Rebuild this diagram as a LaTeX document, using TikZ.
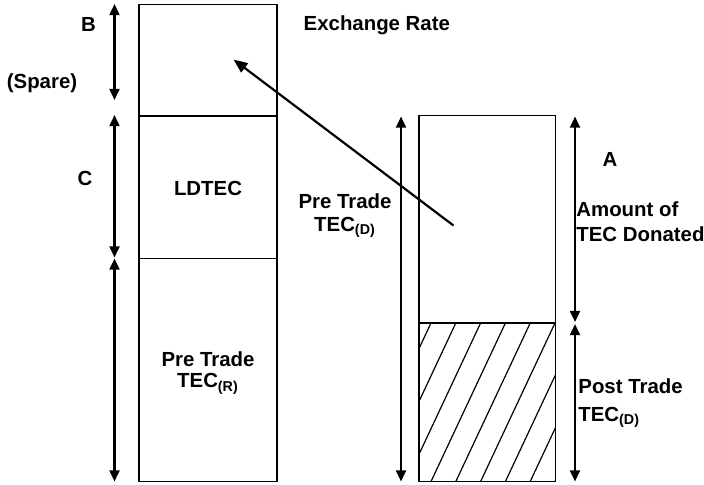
\documentclass[tikz,border=0pt]{standalone}
\usepackage{fontspec}
\setmainfont{Liberation Sans}
\usetikzlibrary{arrows.meta}
\tikzset{
  dimarrow/.style={{Triangle[length=5.6pt,width=5pt]}-{Triangle[length=5.6pt,width=5pt]}, line width=1.1pt},
  ratearrow/.style={-{Triangle[length=7pt,width=5.6pt]}, line width=1.1pt},
  boxline/.style={line width=0.6pt},
  hatchline/.style={line width=0.6pt},
  lbl/.style={font=\fontsize{10.2}{11.5}\selectfont\bfseries, inner sep=0pt},
}

\begin{document}
\begin{tikzpicture}[x=0.5pt, y=-0.5pt]
\useasboundingbox (0,0) rectangle (704,484);

% === Left column: recipient ===
\draw[boxline] (139,4.5) rectangle (277,481.5);
\draw[boxline] (139,116) -- (277,116);
\draw[boxline] (139,258.5) -- (277,258.5);

\coordinate (bTop) at (114.5,4);
\coordinate (bBot) at (114.5,100);
\coordinate (cTop) at (114.5,115);
\coordinate (cBot) at (114.5,257.5);
\coordinate (rTop) at (114.5,258.5);
\coordinate (rBot) at (114.5,481.5);
\draw[dimarrow] (bTop) -- (bBot);
\draw[dimarrow] (cTop) -- (cBot);
\draw[dimarrow] (rTop) -- (rBot);

\node[lbl, anchor=base] (lblB) at (88.5,31) {B};
\node[lbl, anchor=base] (lblSpare) at (42,88.3) {(Spare)};
\node[lbl, anchor=base] (lblC) at (85,185) {C};
\node[lbl, anchor=base] (ldtec) at (208,195) {LDTEC};
\node[lbl, anchor=north, align=center] (preR) at (208,351.7)
  {Pre Trade\\[-1pt] TEC\textsubscript{(R)}};

% === Exchange rate ===
\node[lbl, anchor=base west] (rate) at (303.3,30) {Exchange Rate};
\coordinate (rateTail) at (453.5,225.5);
\coordinate (rateHead) at (233.5,59.5);
\draw[ratearrow] (rateTail) -- (rateHead);

% === Right column: donor ===
\begin{scope}
  \clip (419,323) rectangle (555.7,481.5);
  \foreach \xt in {431,455.8,480.6,505.4,530.2,555,579.8,604.6,629.4}
    \draw[hatchline] ({\xt-74.4},481.5) -- (\xt,323);
\end{scope}
\draw[boxline] (419,115.7) rectangle (555.7,481.5);
\draw[boxline] (419,323) -- (555.7,323);

\coordinate (dTop) at (401,116.5);
\coordinate (dBot) at (401,481.5);
\coordinate (aTop) at (575,116.5);
\coordinate (aBot) at (575,322);
\coordinate (pTop) at (575,324);
\coordinate (pBot) at (575,481.5);
\draw[dimarrow] (dTop) -- (dBot);
\draw[dimarrow] (aTop) -- (aBot);
\draw[dimarrow] (pTop) -- (pBot);

\node[lbl, anchor=north, align=center] (preD) at (345,193)
  {Pre Trade\\ TEC\textsubscript{(D)}};
\node[lbl, anchor=base] (lblA) at (610,166.7) {A};
\node[lbl, anchor=north west, align=left] (donated) at (576,201.7)
  {Amount of\\[1pt] TEC Donated};
\node[lbl, anchor=north west, align=left] (postD) at (578,378)
  {Post Trade\\[2.5pt] TEC\textsubscript{(D)}};

\end{tikzpicture}
\end{document}
